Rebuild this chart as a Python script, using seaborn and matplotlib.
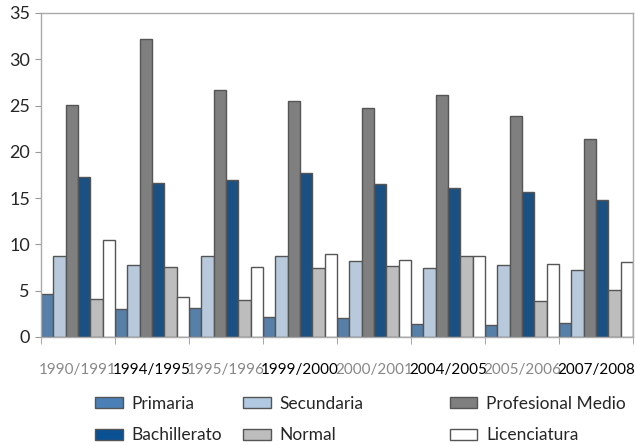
import matplotlib
matplotlib.use("Agg")
import matplotlib.pyplot as plt
import seaborn as sns
import pandas as pd
from matplotlib.patches import Patch

years = ["1990/1991", "1994/1995", "1995/1996", "1999/2000",
         "2000/2001", "2004/2005", "2005/2006", "2007/2008"]
primaria = [4.6, 3.0, 3.1, 2.2, 2.0, 1.4, 1.3, 1.5]
secundaria = [8.8, 7.8, 8.8, 8.7, 8.2, 7.4, 7.8, 7.2]
profesional = [25.1, 32.2, 26.7, 25.5, 24.7, 26.1, 23.9, 21.4]
bachillerato = [17.3, 16.6, 17.0, 17.7, 16.5, 16.1, 15.7, 14.8]
normal = [4.1, 7.6, 4.0, 7.4, 7.7, 8.7, 3.9, 5.1]
licenciatura = [10.5, 4.3, 7.6, 9.0, 8.3, 8.8, 7.9, 8.1]

series_names = ["Primaria", "Secundaria", "Profesional Medio",
                "Bachillerato", "Normal", "Licenciatura"]
series_vals = [primaria, secundaria, profesional, bachillerato, normal, licenciatura]
colors = ["#4a80b6", "#b1c9e1", "#7f7f7f", "#0a5194", "#bdbdbd", "#ffffff"]

rows = []
for name, vals in zip(series_names, series_vals):
    for y, v in zip(years, vals):
        rows.append({"Año": y, "Nivel": name, "Valor": v})
df = pd.DataFrame(rows)

sns.set_style("white")
plt.rcParams["font.family"] = ["Lato", "DejaVu Sans"]

fig = plt.figure(figsize=(6.35, 4.46), dpi=100)
ax = fig.add_axes([0.0646, 0.2444, 0.9324, 0.7265])

sns.barplot(data=df, x="Año", y="Valor", hue="Nivel", order=years,
            hue_order=series_names, palette=colors, width=1.0, gap=0,
            edgecolor="#555555", linewidth=1.0, ax=ax, legend=False)

ax.set_xlim(-0.5, 7.5)
ax.set_ylim(0, 35)
ax.set_yticks(range(0, 36, 5))
ax.tick_params(axis="y", labelsize=13, length=4, color="#999999",
               direction="out", left=True, pad=4)
ax.set_xlabel("")
ax.set_ylabel("")

ax.set_xticks(range(len(years)))
ax.set_xticklabels(years, fontsize=11)
ax.tick_params(axis="x", which="major", length=0, pad=19)
ax.set_xticks([i - 0.5 for i in range(len(years) + 1)], minor=True)
ax.tick_params(axis="x", which="minor", length=5, color="#999999",
               direction="out", bottom=True)
for i, lbl in enumerate(ax.get_xticklabels()):
    lbl.set_color("#888888" if i % 2 == 0 else "#000000")

for s in ax.spines.values():
    s.set_color("#aaaaaa")
    s.set_linewidth(1.0)
    s.set_visible(True)

col_x = [0.150, 0.383, 0.708]
pairs = [(0, 3), (1, 4), (2, 5)]
for cx, (a, b) in zip(col_x, pairs):
    handles = [Patch(facecolor=colors[a], edgecolor="#555555", label=series_names[a]),
               Patch(facecolor=colors[b], edgecolor="#555555", label=series_names[b])]
    fig.legend(handles=handles, loc="upper left", bbox_to_anchor=(cx, 0.113),
               frameon=False, fontsize=12.5, handlelength=1.6, handleheight=0.6,
               handletextpad=0.5, labelspacing=0.9, borderaxespad=0,
               borderpad=0)

fig.savefig("out.png", dpi=100)
